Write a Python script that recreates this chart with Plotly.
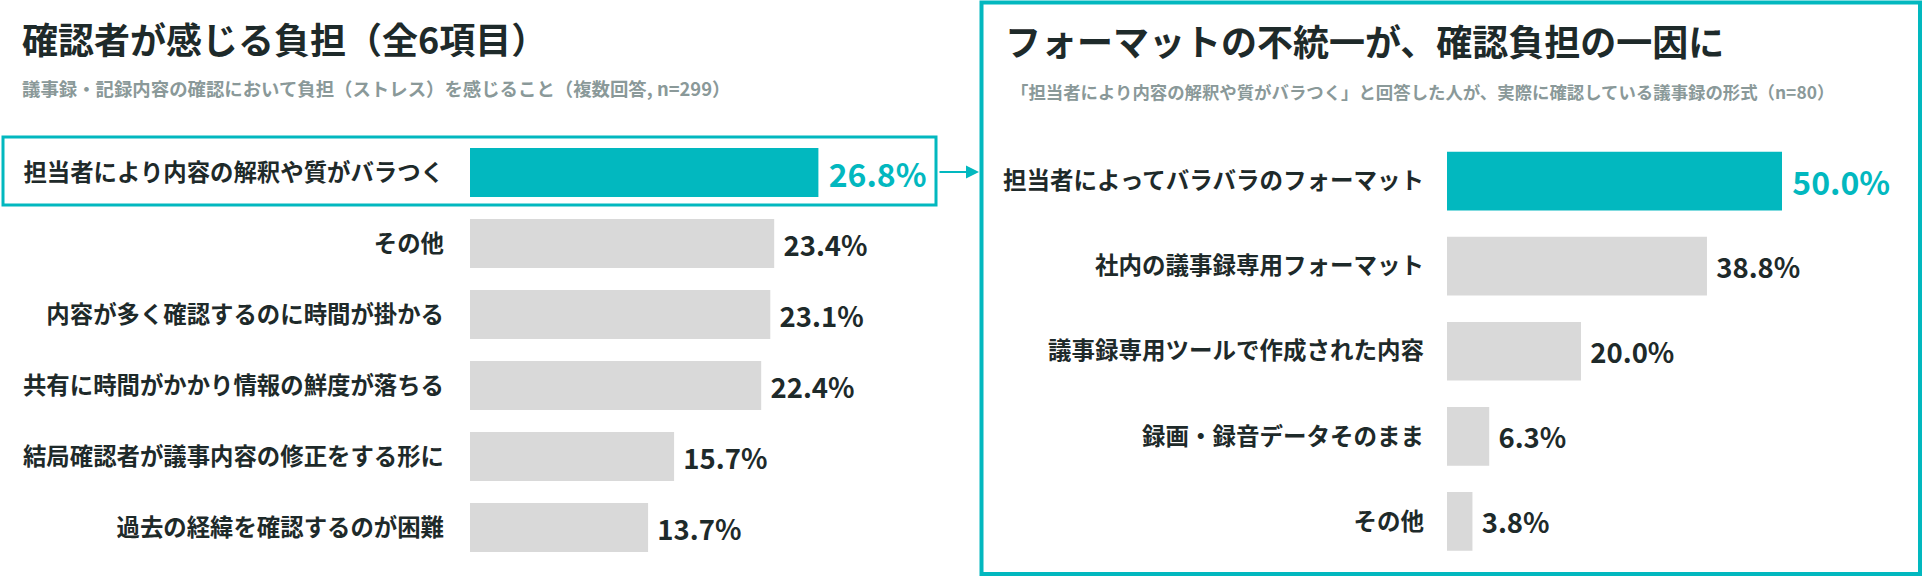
import plotly.graph_objects as go

# ---------------- data ----------------
left_title = "確認者が感じる負担（全6項目）"
left_subtitle = "議事録・記録内容の確認において負担（ストレス）を感じること（複数回答, n=299）"
left_categories = [
    "担当者により内容の解釈や質がバラつく",
    "その他",
    "内容が多く確認するのに時間が掛かる",
    "共有に時間がかかり情報の鮮度が落ちる",
    "結局確認者が議事内容の修正をする形に",
    "過去の経緯を確認するのが困難",
]
left_values = [26.8, 23.4, 23.1, 22.4, 15.7, 13.7]

right_title = "フォーマットの不統一が、確認負担の一因に"
right_subtitle = "「担当者により内容の解釈や質がバラつく」と回答した人が、実際に確認している議事録の形式（n=80）"
right_categories = [
    "担当者によってバラバラのフォーマット",
    "社内の議事録専用フォーマット",
    "議事録専用ツールで作成された内容",
    "録画・録音データそのまま",
    "その他",
]
right_values = [50.0, 38.8, 20.0, 6.3, 3.8]

# ---------------- style ----------------
W, H = 1924, 576
TEAL = "#02B8BF"
GRAY = "#D9D9D9"
DARK = "#1E2A2A"
SUB = "#8A9999"
FONT = "Noto Sans CJK JP"


def px(x):
    return x / W


def py(y):
    return 1 - y / H


def colors(n):
    return [TEAL if i == 0 else GRAY for i in range(n)]


def tcolors(n):
    return [TEAL if i == 0 else DARK for i in range(n)]


def tsizes(n, big, small):
    return [big if i == 0 else small for i in range(n)]


fig = go.Figure()

fig.add_trace(go.Bar(
    x=left_values, y=left_categories, orientation="h",
    marker=dict(color=colors(len(left_values)), line=dict(width=0)),
    text=[f" {v:.1f}%" for v in left_values],
    textposition="outside", cliponaxis=False, constraintext="none",
    textfont=dict(family=FONT, color=tcolors(len(left_values)),
                  size=tsizes(len(left_values), 32, 27.5), weight=700),
    xaxis="x", yaxis="y", hoverinfo="skip",
))

fig.add_trace(go.Bar(
    x=right_values, y=right_categories, orientation="h",
    marker=dict(color=colors(len(right_values)), line=dict(width=0)),
    text=[f" {v:.1f}%" for v in right_values],
    textposition="outside", cliponaxis=False, constraintext="none",
    textfont=dict(family=FONT, color=tcolors(len(right_values)),
                  size=tsizes(len(right_values), 32, 27.5), weight=700),
    xaxis="x2", yaxis="y2", hoverinfo="skip",
))

axis_common = dict(showgrid=False, zeroline=False, showline=False, ticks="")

fig.update_layout(
    width=W, height=H, margin=dict(l=0, r=0, t=0, b=0),
    paper_bgcolor="white", plot_bgcolor="white",
    showlegend=False, bargap=0.31,
    font=dict(family=FONT, color=DARK),
    xaxis=dict(domain=[px(470), px(938)], range=[0, 36], showticklabels=False,
               anchor="y", **axis_common),
    yaxis=dict(domain=[py(563), py(137)], range=[5.5, -0.5], type="category",
               categoryorder="array", categoryarray=left_categories,
               anchor="x", ticklabelstandoff=25,
               tickfont=dict(family=FONT, size=23.4, color=DARK, weight=700),
               **axis_common),
    xaxis2=dict(domain=[px(1447), px(1849)], range=[0, 60], showticklabels=False,
                anchor="y2", **axis_common),
    yaxis2=dict(domain=[py(564), py(138.5)], range=[4.5, -0.5], type="category",
                categoryorder="array", categoryarray=right_categories,
                anchor="x2", ticklabelstandoff=22,
                tickfont=dict(family=FONT, size=23.5, color=DARK, weight=700),
                **axis_common),
)

annotations = [
    dict(text=left_title, x=px(20), y=py(38), xref="paper", yref="paper",
         xanchor="left", yanchor="middle", showarrow=False,
         font=dict(family=FONT, size=36, color=DARK, weight=700)),
    dict(text=left_subtitle, x=px(20), y=py(88), xref="paper", yref="paper",
         xanchor="left", yanchor="middle", showarrow=False,
         font=dict(family=FONT, size=18.4, color=SUB, weight=700)),
    dict(text=right_title, x=px(1003), y=py(40), xref="paper", yref="paper",
         xanchor="left", yanchor="middle", showarrow=False,
         font=dict(family=FONT, size=36, color=DARK, weight=700)),
    dict(text=right_subtitle, x=px(1009), y=py(91), xref="paper", yref="paper",
         xanchor="left", yanchor="middle", showarrow=False,
         font=dict(family=FONT, size=17.4, color=SUB, weight=700)),
    # connector arrow
    dict(text="", x=px(979), y=py(172), xref="paper", yref="paper",
         ax=-41, ay=0, axref="pixel", ayref="pixel", showarrow=True,
         arrowhead=2, arrowsize=1.3, arrowwidth=2, arrowcolor=TEAL, standoff=0),
]
fig.update_layout(annotations=annotations)

shapes = [
    dict(type="rect", xref="paper", yref="paper",
         x0=px(3), x1=px(936), y0=py(205), y1=py(137),
         line=dict(color=TEAL, width=3), fillcolor="rgba(0,0,0,0)"),
    dict(type="rect", xref="paper", yref="paper",
         x0=px(981.5), x1=px(1920), y0=py(574), y1=py(2.5),
         line=dict(color=TEAL, width=4), fillcolor="rgba(0,0,0,0)"),
]
fig.update_layout(shapes=shapes)

fig.write_html("out.html", config={"displayModeBar": False},
               post_script="document.body.style.margin='0';")
